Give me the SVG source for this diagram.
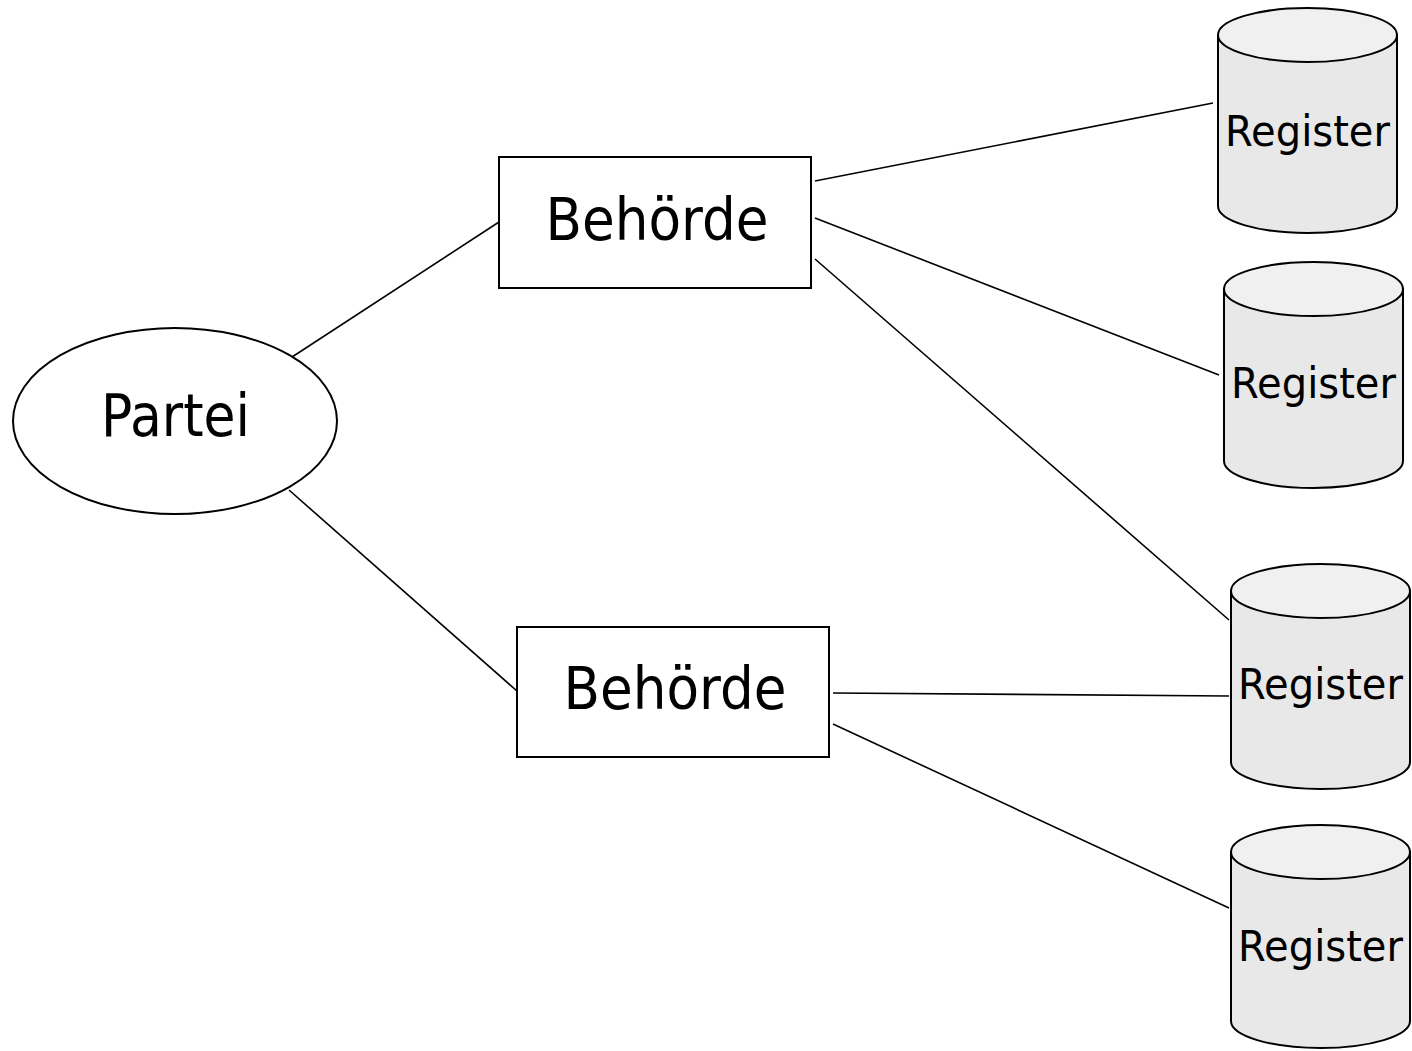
<svg xmlns="http://www.w3.org/2000/svg" width="1412" height="1051" viewBox="0 0 1412 1051">
<style>
.shape{fill:#fff;stroke:#000;stroke-width:2}
.cyl{fill:#e8e8e8;stroke:#000;stroke-width:2}
.cyltop{fill:#f0f0f0;stroke:#000;stroke-width:2}
.big{font-family:"DejaVu Sans",sans-serif;font-size:59px;fill:#000;text-anchor:middle}
.reg{font-family:"DejaVu Sans",sans-serif;font-size:42px;fill:#000;text-anchor:middle}
#connectors line{stroke:#000;stroke-width:1.6}
</style>
<rect width="1412" height="1051" fill="#fff"/>
<g id="connectors">
<line x1="289" y1="359" x2="499" y2="222"/>
<line x1="289" y1="490" x2="517" y2="691"/>
<line x1="815" y1="181" x2="1213" y2="103"/>
<line x1="815" y1="218" x2="1219" y2="375"/>
<line x1="815" y1="259" x2="1229" y2="620"/>
<line x1="833" y1="693" x2="1229" y2="696"/>
<line x1="833" y1="724" x2="1229" y2="908"/>
</g>
<g id="partei">
<ellipse class="shape" cx="175" cy="421" rx="162" ry="93"/>
<text class="big" x="175.5" y="436" textLength="149" lengthAdjust="spacingAndGlyphs">Partei</text>
</g>
<g id="behoerde1">
<rect class="shape" x="499" y="157" width="312" height="131"/>
<text class="big" x="657" y="240" textLength="223" lengthAdjust="spacingAndGlyphs">Behörde</text>
</g>
<g id="behoerde2">
<rect class="shape" x="517" y="627" width="312" height="130"/>
<text class="big" x="675" y="709" textLength="223" lengthAdjust="spacingAndGlyphs">Behörde</text>
</g>
<g id="register1">
<path class="cyl" d="M1218,35 L1218,206 A89.5,27 0 0 0 1397,206 L1397,35 Z"/>
<ellipse class="cyltop" cx="1307.5" cy="35" rx="89.5" ry="27"/>
<text class="reg" x="1307.5" y="146" textLength="165" lengthAdjust="spacingAndGlyphs">Register</text>
</g>
<g id="register2">
<path class="cyl" d="M1224,289 L1224,461 A89.5,27 0 0 0 1403,461 L1403,289 Z"/>
<ellipse class="cyltop" cx="1313.5" cy="289" rx="89.5" ry="27"/>
<text class="reg" x="1313.5" y="398" textLength="165" lengthAdjust="spacingAndGlyphs">Register</text>
</g>
<g id="register3">
<path class="cyl" d="M1231,591 L1231,762 A89.5,27 0 0 0 1410,762 L1410,591 Z"/>
<ellipse class="cyltop" cx="1320.5" cy="591" rx="89.5" ry="27"/>
<text class="reg" x="1320.5" y="699" textLength="165" lengthAdjust="spacingAndGlyphs">Register</text>
</g>
<g id="register4">
<path class="cyl" d="M1231,852 L1231,1021 A89.5,27 0 0 0 1410,1021 L1410,852 Z"/>
<ellipse class="cyltop" cx="1320.5" cy="852" rx="89.5" ry="27"/>
<text class="reg" x="1320.5" y="961" textLength="165" lengthAdjust="spacingAndGlyphs">Register</text>
</g>
</svg>
